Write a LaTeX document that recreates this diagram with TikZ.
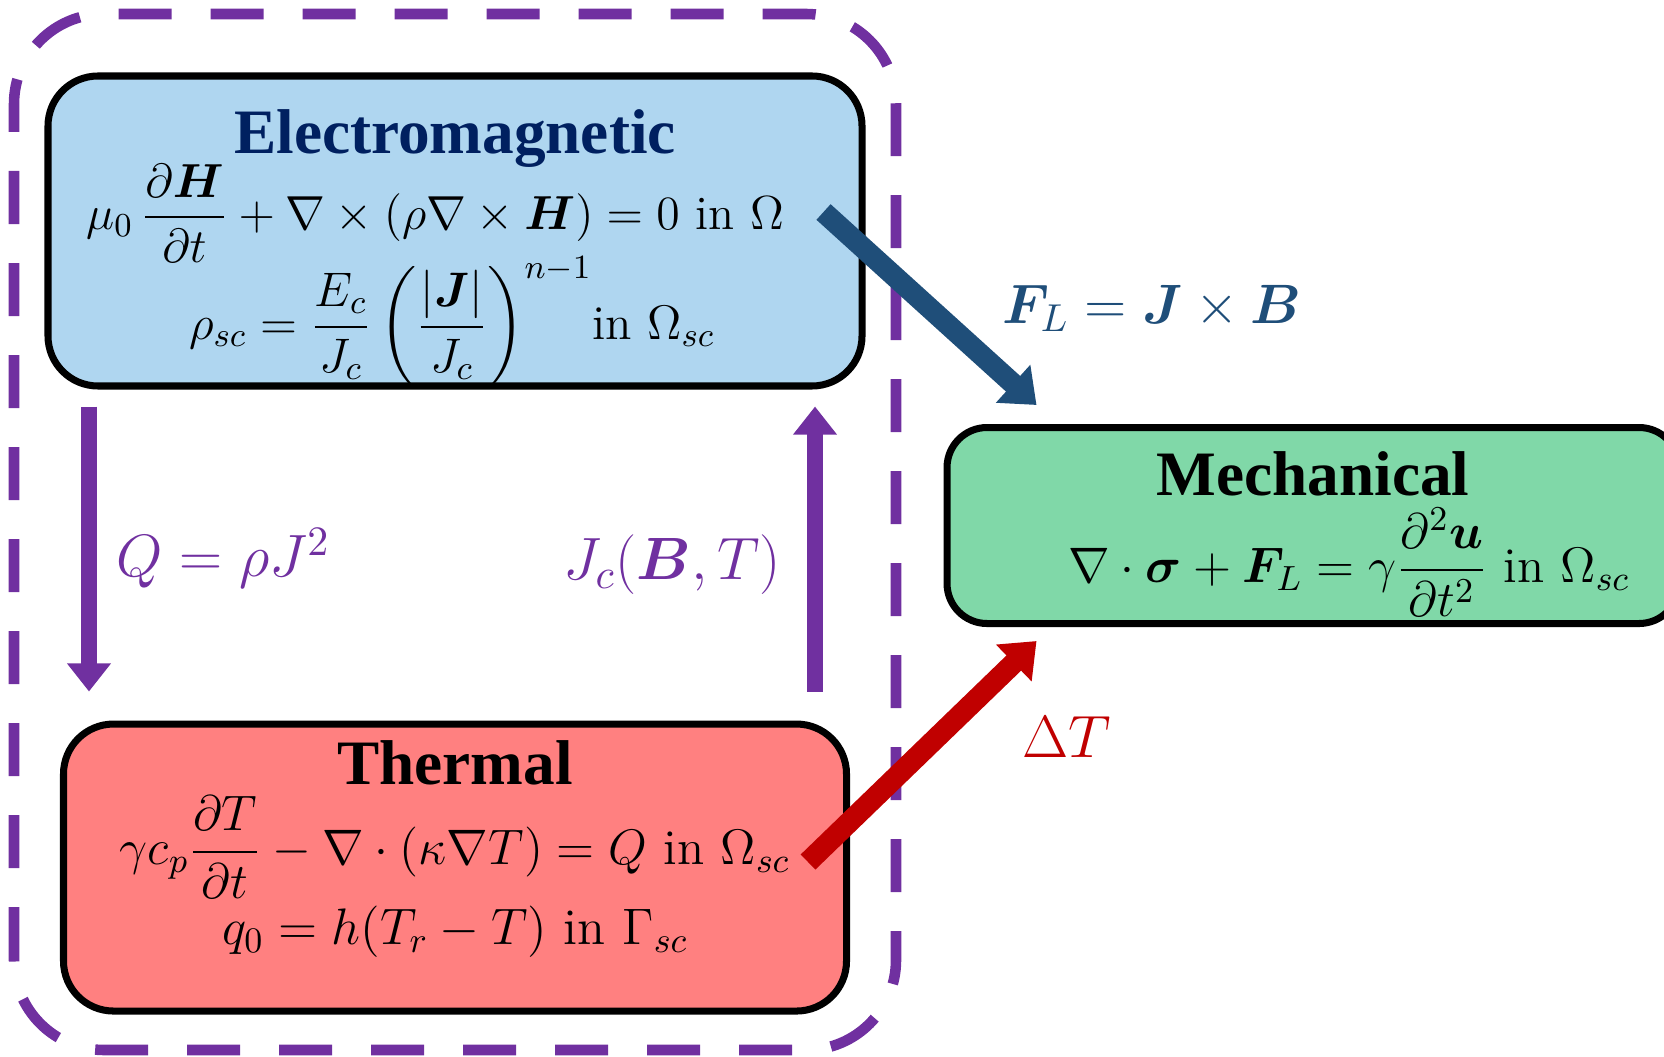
\RequirePackage{fix-cm}
\documentclass[tikz,border=0pt]{standalone}
\usepackage{fontspec}
\usepackage{amsmath,bm}
\newfontfamily\headfont{Liberation Serif}
\usetikzlibrary{positioning,arrows.meta}

\definecolor{emblue}{RGB}{175,214,240}
\definecolor{thred}{RGB}{255,128,128}
\definecolor{mechgreen}{RGB}{128,216,168}
\definecolor{loopviolet}{RGB}{112,48,160}
\definecolor{forceblue}{RGB}{31,78,121}
\definecolor{heatred}{RGB}{192,0,0}
\definecolor{navy}{RGB}{0,32,96}

\begin{document}
\begin{tikzpicture}[box/.style={draw,line width=2pt,rounded corners=0.5cm,inner sep=0pt}, head/.style={font=\headfont\bfseries\fontsize{18}{20}\selectfont}, eq/.style={font=\fontsize{14.2}{17}\selectfont,inner sep=0pt}, lbl/.style={font=\fontsize{17}{20}\selectfont,inner sep=0pt}, couple/.style={draw=loopviolet,line width=4.5pt,-{Triangle[width=12pt,length=8pt]}}, force/.style={line width=6pt,-{Triangle[width=14pt,length=9pt]}}]
\useasboundingbox (0,0) rectangle (16.64,10.56);
% EM + thermal loop
\draw[loopviolet,line width=3pt,dash pattern=on 0.53cm off 0.39cm,rounded corners=0.9cm] (0.14,0.06) rectangle (8.96,10.42);
\node[box,fill=emblue,minimum width=8.14cm,minimum height=3.1cm] (em) at (4.55,8.25) {};
\node[box,fill=thred,minimum width=7.83cm,minimum height=2.87cm,below=3.31cm of em] (th) {};
\node[box,fill=mechgreen,rounded corners=0.4cm,minimum width=7.32cm,minimum height=1.96cm,below right=1.93cm and 0.78cm of em.east] (mech) {};

\node[head,text=navy] (emhead) at ([yshift=0.925cm]em.center) {Electromagnetic};
\node[eq,font=\fontsize{13.6}{16}\selectfont] (maxwell) at ([shift={(-0.20,0.18)}]em.center) {$\displaystyle \mu_0\,\frac{\partial\bm{H}}{\partial t}+\nabla\times(\rho\nabla\times\bm{H})=0\ \mathrm{in}\ \Omega$};
\node[eq,font=\fontsize{13.8}{16}\selectfont] (powerlaw) at ([shift={(-0.03,-0.91)}]em.center) {$\displaystyle \rho_{sc}=\frac{E_c}{J_c}\left(\frac{|\bm{J}|}{J_c}\right)^{n-1}\!\mathrm{in}\ \Omega_{sc}$};

\node[head] (thhead) at ([yshift=1.045cm]th.center) {Thermal};
\node[eq] (heat) at ([yshift=0.2cm]th.center) {$\displaystyle \gamma c_p\frac{\partial T}{\partial t}-\nabla\cdot(\kappa\nabla T)=Q\ \mathrm{in}\ \Omega_{sc}$};
\node[eq,font=\fontsize{14.6}{17}\selectfont] (robin) at ([yshift=-0.64cm]th.center) {$q_0=h(T_r-T)\ \mathrm{in}\ \Gamma_{sc}$};

\node[head] (mechhead) at ([yshift=0.52cm]mech.center) {Mechanical};
\node[eq] (motion) at ([shift={(0.36,-0.37)}]mech.center) {$\displaystyle \nabla\cdot\bm{\sigma}+\bm{F}_L=\gamma\frac{\partial^2\bm{u}}{\partial t^2}\ \mathrm{in}\ \Omega_{sc}$};

% couplings
\coordinate (qx) at (0.89,0);
\coordinate (jx) at (8.15,0);
\draw[couple,shorten <=0.17cm,shorten >=0.29cm] (em.south -| qx) -- node[lbl,text=loopviolet,pos=0.51,right=0.2cm] (qlbl) {$Q=\rho J^2$} (th.north -| qx);
\draw[couple,shorten <=0.29cm,shorten >=0.17cm] (th.north -| jx) -- node[lbl,text=loopviolet,pos=0.47,left=0.26cm] (jclbl) {$J_c(\bm{B},T)$} (em.south -| jx);
\draw[force,forceblue] ([shift={(-0.42,0.19)}]em.east) -- node[lbl,font=\fontsize{15.8}{18}\selectfont,pos=0.5,right=0.62cm] (flbl) {$\bm{F}_L=\bm{J}\times\bm{B}$} ([shift={(0.93,0.19)}]mech.north west);
\draw[force,heatred] ([shift={(-0.42,0.055)}]th.east) -- node[lbl,pos=0.5,right=0.9cm,yshift=0.14cm] (dtlbl) {$\Delta T$} ([shift={(0.93,-0.14)}]mech.south west);
\end{tikzpicture}
\end{document}
